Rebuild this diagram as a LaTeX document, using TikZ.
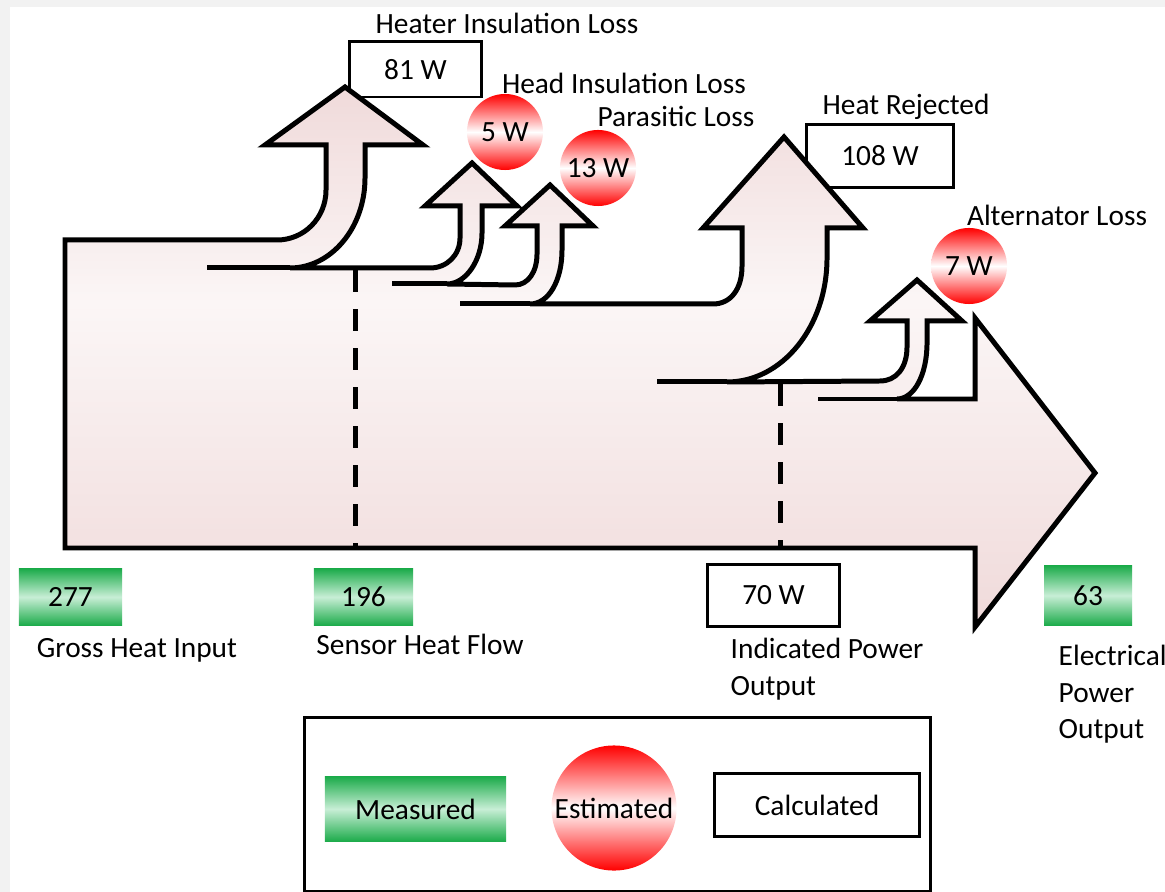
\documentclass[tikz,border=0pt]{standalone}
\usepackage{fontspec}
\setmainfont{Carlito}
\usepackage{xcolor}
\usepackage{tikz}
\usetikzlibrary{positioning,calc}

\definecolor{flowpink}{RGB}{240,218,218}
\definecolor{flowlight}{RGB}{251,246,246}
\definecolor{measgreen}{RGB}{30,172,76}
\definecolor{measlight}{RGB}{200,238,214}
\definecolor{pagegray}{RGB}{242,242,242}
\pgfdeclareverticalshading{flowshade}{100bp}{color(0bp)=(flowpink); color(25bp)=(flowpink); color(55bp)=(flowlight); color(75bp)=(flowpink); color(100bp)=(flowpink)}

\begin{document}
\begin{tikzpicture}[x=0.01cm, y=-0.01cm,
    every node/.style={font=\fontsize{8.35}{10.5}\selectfont},
    flowline/.style={line width=1.42pt, line join=miter},
    cutline/.style={line width=1.42pt, dash pattern=on 0.22cm off 0.17cm},
    valbox/.style={draw, line width=0.85pt, fill=white, inner sep=0pt, minimum width=1.31cm, minimum height=0.6cm},
    measbox/.style={rectangle, top color=measgreen, bottom color=measgreen, middle color=measlight, inner sep=0pt, minimum width=1.03cm, minimum height=0.56cm},
    estdisc/.style={circle, top color=red, bottom color=red, middle color=white, inner sep=0pt, minimum size=0.76cm},
    lbl/.style={inner sep=0pt}]
    \useasboundingbox (0,0) rectangle (1165,892);
    \fill[pagegray] (0,0) rectangle (1165,892);
    \fill[white] (10,7) rectangle (1165,892);

    % calculated values (under the flow)
    \node[valbox, minimum height=0.55cm] (v81) at (415.5,69.5) {81 W};
    \node[valbox, minimum width=1.46cm, minimum height=0.62cm] (v108) at (880,156) {108 W};
    \node[valbox, minimum height=0.61cm] (v70) at (773.5,595.5) {70 W};

    % energy flow
    \shadedraw[flowline, shading=flowshade] (65,548) -- (65,240) -- (277,240)
        .. controls (304,240) and (326,218) .. (326,190) -- (326,145) -- (265,145) -- (345,87) -- (423,145) -- (365,145) -- (365,178)
        .. controls (365,228) and (331,268) .. (290,268) -- (430,268)
        .. controls (447,268) and (460,255) .. (460,238) -- (460,206) -- (425,206) -- (472,163) -- (517,206) -- (482,206) -- (482,233)
        .. controls (482,260) and (466,284) .. (447,284) -- (515,285)
        .. controls (528,285) and (537,272) .. (537,254) -- (537,226) -- (505,226) -- (550,185) -- (593,226) -- (562,226) -- (562,250)
        .. controls (562,280) and (549,304) .. (530,304) -- (713,304)
        .. controls (730,304) and (742,290) .. (742,266) -- (742,228) -- (703,228) -- (784,137) -- (863,228) -- (827,228) -- (827,258)
        .. controls (827,327) and (782,382) .. (727,382) -- (880,381)
        .. controls (896,381) and (907,368) .. (907,347) -- (907,321) -- (870,321) -- (917,280) -- (962,321) -- (927,321) -- (927,343)
        .. controls (927,375) and (914,399) .. (897,399) -- (975,399) -- (975,318) -- (1095,473) -- (975,627) -- (975,548) -- cycle;
    \draw[flowline] (207,268) -- (290,268);
    \draw[flowline] (392,284) -- (447,284);
    \draw[flowline] (460,304) -- (530,304);
    \draw[flowline] (657,382) -- (727,382);
    \draw[flowline] (818,399) -- (897,399);
    \draw[cutline] (355,270) -- (355,548);
    \draw[cutline] (780,384) -- (780,548);

    % estimated values
    \node[estdisc] (e5) at (505,132) {5 W};
    \node[estdisc] (e13) at (598,168) {13 W};
    \node[estdisc] (e7) at (969,266) {7 W};

    % measured values
    \node[measbox] (m277) at (70.5,597) {277};
    \node[measbox, minimum width=0.99cm] (m196) at (363.5,597) {196};
    \node[measbox, minimum width=0.88cm, minimum height=0.59cm] (m63) at (1088,595.5) {63};

    % labels
    \node[lbl, anchor=base] (hilTxt) at (507,34) {Heater Insulation Loss};
    \node[lbl, anchor=base] (hdlTxt) at (624,94) {Head Insulation Loss};
    \node[lbl, anchor=base] (parTxt) at (676,127) {Parasitic Loss};
    \node[lbl, anchor=base] (hrTxt) at (906,115) {Heat Rejected};
    \node[lbl, anchor=base] (altTxt) at (1057,226) {Alternator Loss};
    \node[lbl, anchor=base] (ghiTxt) at (137,657) {Gross Heat Input};
    \node[lbl, anchor=base] (shfTxt) at (420,654) {Sensor Heat Flow};
    \node[lbl, anchor=north west, align=left] (ipoTxt) at (730,637) {Indicated Power\\Output};
    \node[lbl, anchor=north west, align=left] (epoTxt) at (1058,644) {Electrical\\Power\\Output};

    % legend
    \node[draw, line width=0.85pt, minimum width=6.25cm, minimum height=1.73cm] (legend) at (617.5,804.5) {};
    \node[measbox, minimum width=1.81cm, minimum height=0.64cm] (kMeas) at (415.5,809) {Measured};
    \node[estdisc, minimum size=1.25cm] (kEst) at (614,808) {Estimated};
    \node[valbox, minimum width=2.04cm, minimum height=0.62cm] (kCalc) at (817,805) {Calculated};
\end{tikzpicture}
\end{document}
